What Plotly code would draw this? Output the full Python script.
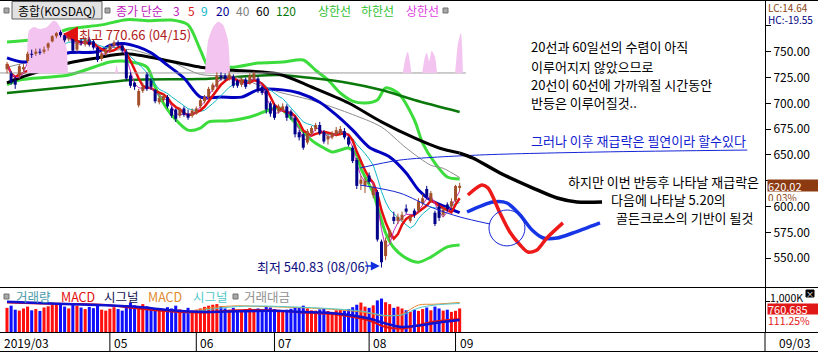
import plotly.graph_objects as go
import pandas as pd

# ---------------- DATA ----------------
month_labels = ["2019/03", "05", "06", "07", "08", "09"]
month_start = [0, 25, 46, 65, 88, 109]

opens = [733, 729, 722, 727, 733, 741, 748, 748, 750, 750,
         754, 760, 765, 769, 766, 762, 764, 752, 760, 757,
         762, 760, 754, 743, 748, 751, 756, 759, 756, 750,
         727, 720, 698, 712, 728, 722, 713, 701, 703, 706,
         695, 694, 688, 695, 690, 688, 690, 697, 702, 706,
         713, 716, 727, 727, 724, 726, 722, 718, 723, 720,
         724, 724, 716, 712, 700, 698, 692, 694, 697, 692,
         686, 672, 670, 662, 671, 675, 679, 672, 665, 667,
         670, 671, 673, 667, 657, 645, 622, 620, 630, 611,
         614, 566, 552, 570, 590, 586, 587, 598, 586, 596,
         596, 603, 617, 606, 594, 600, 592, 602, 600, 606,
         618]
highs = [740, 731, 726, 738, 738, 750, 752, 753, 753, 755,
         759, 766, 769, 770.66, 768, 766, 766, 762, 763, 764,
         764, 762, 755, 750, 754, 758, 761, 761, 758, 752,
         730, 721, 714, 720, 730, 724, 714, 707, 709, 708,
         697, 695, 696, 697, 694, 695, 697, 705, 708, 716,
         720, 730, 730, 729, 731, 728, 723, 725, 725, 729,
         731, 726, 717, 714, 702, 700, 699, 700, 699, 694,
         688, 674, 672, 675, 678, 681, 682, 674, 671, 673,
         677, 678, 676, 668, 659, 647, 630, 628, 633, 622,
         616, 568, 570, 579, 595, 593, 595, 602, 592, 598,
         608, 612, 620, 615, 596, 603, 599, 604, 608, 621,
         623]
lows = [729, 718, 714, 724, 731, 739, 744, 746, 747, 748,
        751, 759, 763, 764, 759, 760, 749, 750, 756, 755,
        755, 752, 740, 741, 746, 749, 754, 754, 749, 722,
        715, 713, 696, 710, 712, 713, 700, 699, 701, 695,
        686, 682, 686, 687, 684, 686, 689, 695, 700, 704,
        711, 714, 722, 722, 722, 715, 715, 716, 714, 718,
        722, 710, 708, 690, 687, 684, 690, 692, 683, 684,
        667, 664, 655, 660, 669, 673, 669, 661, 660, 665,
        668, 669, 665, 658, 642, 617, 616, 613, 622, 608,
        566, 540.83, 548, 566, 583, 583, 585, 593, 584, 589,
        594, 601, 607, 604, 581, 586, 590, 595, 598, 604,
        615]
closes = [738, 720, 718, 736, 735, 748, 747, 750, 749, 752,
          758, 765, 768, 766, 761, 764, 751, 760, 759, 762,
          757, 754, 742, 748, 752, 756, 759, 756, 751, 724,
          717, 716, 712, 716, 714, 716, 702, 705, 707, 697,
          688, 685, 694, 689, 686, 693, 695, 703, 706, 714,
          718, 727, 725, 724, 728, 717, 717, 723, 716, 727,
          729, 712, 710, 694, 690, 686, 697, 697, 686, 688,
          670, 667, 657, 673, 676, 679, 671, 663, 668, 671,
          674, 675, 667, 660, 644, 620, 626, 625, 624, 619,
          568, 546, 567, 577, 586, 590, 592, 595, 590, 592,
          605, 608, 610, 613, 583, 589, 597, 598, 605, 619.83,
          620.02]
volumes = [780000, 850000, 720000, 690000, 760000, 820000, 700000, 740000, 680000, 790000,
           830000, 870000, 910000, 880000, 820000, 760000, 900000, 850000, 790000, 740000,
           810000, 770000, 880000, 720000, 690000, 750000, 800000, 740000, 690000, 820000,
           950000, 860000, 790000, 900000, 830000, 760000, 720000, 690000, 740000, 800000,
           760000, 850000, 730000, 700000, 780000, 690000, 720000, 760000, 810000, 850000,
           880000, 900000, 830000, 760000, 720000, 780000, 700000, 680000, 740000, 770000,
           720000, 760000, 700000, 820000, 790000, 740000, 690000, 660000, 720000, 750000,
           800000, 780000, 850000, 760000, 700000, 690000, 730000, 760000, 680000, 650000,
           700000, 720000, 690000, 740000, 800000, 880000, 950000, 820000, 780000, 860000,
           1020000, 1080000, 960000, 900000, 780000, 820000, 760000, 700000, 650000, 720000,
           680000, 740000, 790000, 700000, 820000, 760000, 690000, 720000, 650000, 683760,
           760685]

# moving averages / bands (day index, value)
ma20_i = [0, 4, 15, 22, 25, 28, 32, 35, 39, 43, 47, 52, 57, 61, 67, 71, 76, 80, 84, 88, 93, 97, 100, 103, 107, 110]
ma20_v = [744, 740, 749, 750, 756, 758, 754.5, 749, 737, 724.5, 706, 706, 706, 713, 713, 710, 701, 688.7, 674,
          657.5, 648, 632.5, 616, 606, 599, 594]
ma40_i = [0, 15, 25, 30, 40, 47, 55, 61, 66, 74, 83, 91, 97, 103, 106, 110]
ma40_v = [735, 748, 751, 752, 740, 728, 726, 718, 711, 703, 690.6, 677, 656.7, 640, 637, 628]
ma60_i = [0, 3, 15, 22, 29, 47, 55, 66, 74, 83, 91, 99, 105, 110]
ma60_v = [719.7, 724.5, 739, 744, 748, 735, 732, 728.4, 715.8, 700.3, 682, 666.4, 656.7, 651.8]
ma120_i = [0, 15, 30, 47, 66, 74, 83, 91, 99, 110]
ma120_v = [710, 715.8, 722.6, 723.5, 727.4, 724.5, 719.7, 712.9, 703.2, 691.6]
bb_up_i = [0, 9, 15, 23, 29, 35, 40, 44, 47, 49, 55, 61, 67, 72, 75, 78, 81, 84, 87, 90, 92, 95, 99, 101, 104, 107, 110]
bb_up_v = [759.4, 763.3, 772, 776, 781, 780, 780.7, 776, 751.6, 736, 735, 739, 740, 742, 732, 722.6, 710, 702.2,
           700.3, 703.2, 715, 710, 683.8, 661.5, 642, 628.6, 626.7]
bb_lo_i = [0, 3, 15, 25, 28, 34, 36, 38, 40, 44, 47, 49, 54, 59, 66, 69, 71, 74, 77, 79, 81, 83, 85, 86, 89, 92,
           94, 97, 100, 103, 107, 110]
bb_lo_v = [718, 722.6, 727.4, 740, 741, 735, 715.8, 700.3, 688.7, 674, 676, 682, 683, 686.7, 695.4, 685.7, 677,
           664.4, 656.7, 652.8, 654.7, 656.7, 650, 637, 613, 574.3, 560, 550, 546, 551, 560.8, 562.7]

# pink "상한선" areas above the base level
pink_base = 729.4
pink_areas = [
    ([4.9, 5.3, 6.5, 8.0, 9.7, 11.3, 12.0, 13.4, 14.5, 14.8], [729.4, 770, 774, 772, 774, 780, 779, 770, 753, 729.4]),
    ([26.3, 26.6, 27.0], [729.4, 737, 729.4]),
    ([48.1, 48.9, 50.1, 51.3, 52.5, 53.7, 54.2], [729.4, 761, 774, 779, 776, 761, 729.4]),
    ([96.2, 96.9, 97.4, 98.3], [729.4, 745, 750, 729.4]),
    ([100.9, 101.5, 102.0, 102.6, 103.2, 104.0, 104.5], [729.4, 744, 749, 741, 751, 745, 729.4]),
    ([108.9, 109.6, 110.3, 110.8], [729.4, 758, 768, 729.4]),
]

# MACD panel lines (arbitrary units)
macd_i = [0, 8, 16, 24, 32, 40, 48, 56, 64, 72, 80, 88, 92, 96, 100, 104, 110]
macd_sig = [0.3, -1, -2.3, -3.3, -5, -8.3, -10, -9.3, -8.8, -10, -11.5, -16.5, -21.5, -25, -23.5, -21, -18]
macd_val = [-0.5, -1.5, -2, -3, -6.5, -9.5, -10.5, -8.2, -8.3, -10.5, -12.5, -18.5, -25, -26.5, -23, -19.5, -17]
macd2_i = [44, 50, 56, 62, 70, 78, 86, 92, 96, 100, 104, 110]
macd2_val = [-10, -5.5, -3.8, -4.5, -5.5, -7, -10, -14, -12, -3, -2.2, -0.5]
macd2_sig = [-11, -7, -4.5, -4, -5, -6.5, -9, -13.5, -13, -6, -3, -1.5]

# hand-drawn projection (day index, value)
black_ext_i = [110, 113.2, 119.8, 127.8, 133.7, 138.5, 144.6]
black_ext_v = [651.8, 647, 632.5, 617.9, 608.2, 604.4, 604.4]
red_proj_i = [112.0, 115.4, 116.9, 119.8, 122.2, 124.7, 126.6, 128.8, 131.2, 135.1]
red_proj_v = [611.1, 620.8, 617.9, 593.7, 575.3, 562.7, 555.9, 557.9, 569.5, 584.1]
blue_proj_i = [111.8, 118.1, 121.5, 124.7, 127.6, 130.3, 133.7, 137.5, 144.1]
blue_proj_v = [594.7, 604.4, 603.4, 591.8, 577.2, 569.5, 569.5, 574.3, 584.1]
lineA_i = [85.8, 95.5, 114.9, 144.1, 179.9]
lineA_v = [637.3, 645.0, 649.9, 652.8, 654.7]
lineB_i = [85.8, 95.5, 103.5, 110.1, 117.4]
lineB_v = [620.8, 613.0, 598.6, 589.8, 583.0]
circle_center = (121.5, 579.2)
circle_r_idx, circle_r_val = 4.37, 17.4

high_idx, high_val = 13, 770.66
low_idx, low_val = 91, 540.83

price_ticks = [550, 575, 600, 625, 650, 675, 700, 725, 750, 775]

# ---------------- geometry helpers (pixels -> paper) ----------------
W, H = 818, 352
AX_X = 765
BOT = 332
MAIN_BOT = 287
VOL_TOP = 288
X_OFF, X_STEP = 7.0, 4.115
PX_PER_PT = 1.032
Y750 = 51.7


def PX(px):
    return px / AX_X


def PY(py):
    return (BOT - py) / BOT


FONT = "Noto Sans CJK KR, Noto Sans, sans-serif"
N = len(closes)
idx = list(range(N))
s = pd.Series(closes)
ma3 = s.rolling(3, min_periods=1).mean()
ma5 = s.rolling(5, min_periods=1).mean()
ma9 = s.rolling(9, min_periods=1).mean()

UP = "#a3502a"
DN = "#000088"
GREEN = "#3cdc3c"

fig = go.Figure()


def line(x, y, color, width, shape="spline", yaxis="y", dash="solid"):
    fig.add_trace(go.Scatter(x=x, y=y, mode="lines", yaxis=yaxis, hoverinfo="skip",
                             line=dict(color=color, width=width, shape=shape, dash=dash, smoothing=0.8)))


# bands and averages
line(bb_up_i, bb_up_v, GREEN, 3)
line(bb_lo_i, bb_lo_v, GREEN, 3)
line(ma120_i, ma120_v, "#0a780a", 2.5)
line(ma40_i, ma40_v, "#8c8c8c", 1)
line(ma60_i, ma60_v, "#000000", 3)
line(ma20_i, ma20_v, "#0000c0", 3)
line(idx, ma9, "#10b8c8", 1, shape="linear")
line(idx, ma5, "#e41010", 2.5, shape="linear")
line(idx, ma3, "#c030c0", 1, shape="linear")

# base level
line([-2, 111.5], [pink_base, pink_base], "#9a9a9a", 1, shape="linear")

# pink areas
for px_, pv_ in pink_areas:
    fig.add_trace(go.Scatter(x=px_, y=pv_, mode="lines", fill="toself", fillcolor="#f3c4ef",
                             line=dict(width=0, color="#f3c4ef", shape="spline", smoothing=0.6),
                             hoverinfo="skip"))

# candles
for up in (True, False):
    wx, wy, bx, by = [], [], [], []
    for i in idx:
        if (closes[i] >= opens[i]) != up:
            continue
        wx += [i, i, None]
        wy += [lows[i], highs[i], None]
        bx += [i, i, None]
        by += [opens[i], closes[i], None]
    col = UP if up else DN
    fig.add_trace(go.Scatter(x=wx, y=wy, mode="lines", line=dict(color=col, width=1), hoverinfo="skip"))
    fig.add_trace(go.Scatter(x=bx, y=by, mode="lines", line=dict(color=col, width=3), hoverinfo="skip"))

# hand drawings
line(lineA_i, lineA_v, "#1525d8", 1)
line(lineB_i, lineB_v, "#1525d8", 1)
line(black_ext_i, black_ext_v, "#000000", 3.5)
line(blue_proj_i, blue_proj_v, "#1535e6", 3.5)
line(red_proj_i, red_proj_v, "#ee1a1a", 3.5)

# volume
vcol = ["#ff1010" if closes[i] >= opens[i] else "#1010ff" for i in idx]
fig.add_trace(go.Bar(x=idx, y=volumes, marker=dict(color=vcol, line=dict(width=0)), width=0.74,
                     yaxis="y2", hoverinfo="skip"))
line(macd2_i, macd2_val, "#e88a30", 1, yaxis="y3")
line(macd2_i, macd2_sig, "#50c8c8", 1, yaxis="y3")
line(macd_i, macd_val, "#e01010", 2, yaxis="y3")
line(macd_i, macd_sig, "#1010d0", 2.5, yaxis="y3")

x_range = [(0 - X_OFF) / X_STEP, (AX_X - X_OFF) / X_STEP]
y_range = [750 - (MAIN_BOT - Y750) / PX_PER_PT, 750 + Y750 / PX_PER_PT]

# labels hidden under the LC/HC texts and the price box are left blank
hidden = {625, 775}
price_text = ["" if v in hidden else f"{v:.2f}" for v in price_ticks]

fig.update_layout(
    width=W, height=H, margin=dict(l=0, r=W - AX_X, t=0, b=H - BOT),
    paper_bgcolor="white", plot_bgcolor="white", showlegend=False,
    font=dict(family=FONT, size=12, color="black"),
    xaxis=dict(domain=[0, 1], range=x_range, showticklabels=False, ticks="", showgrid=False,
               zeroline=False, showline=False, anchor="y2", rangeslider=dict(visible=False)),
    yaxis=dict(domain=[PY(MAIN_BOT), 1], range=y_range, side="right", tickvals=price_ticks,
               ticktext=price_text, ticks="outside", ticklen=5, tickcolor="black", showline=True,
               linecolor="black", linewidth=1, showgrid=False, zeroline=False,
               tickfont=dict(family=FONT, size=12, color="black")),
    yaxis2=dict(domain=[0, PY(VOL_TOP)], range=[0, 1420000], side="right", tickvals=[1000000],
                ticktext=[""], ticks="outside", ticklen=4, tickcolor="black", showline=True,
                linecolor="black", linewidth=1, showgrid=False, zeroline=False,
                tickfont=dict(family=FONT, size=12, color="black")),
    yaxis3=dict(overlaying="y2", range=[-30, 14], visible=False),
)

shapes = []
# frame lines
for yy in (0.5, MAIN_BOT + 0.5, BOT + 0.5, H - 0.5):
    shapes.append(dict(type="line", xref="paper", yref="paper", x0=0, x1=W / AX_X, y0=PY(yy), y1=PY(yy),
                       line=dict(color="black", width=1)))
shapes.append(dict(type="line", xref="paper", yref="paper", x0=1, x1=1, y0=PY(BOT), y1=PY(H),
                   line=dict(color="black", width=1)))
# month separators in the date row
for ms in month_start[1:]:
    shapes.append(dict(type="line", xref="x", yref="paper", x0=ms, x1=ms, y0=PY(BOT), y1=PY(H),
                       line=dict(color="black", width=1)))
# circle
cx, cy = circle_center
shapes.append(dict(type="circle", xref="x", yref="y", x0=cx - circle_r_idx, x1=cx + circle_r_idx,
                   y0=cy - circle_r_val, y1=cy + circle_r_val, line=dict(color="#1525d8", width=1)))
# header button and little squares
shapes.append(dict(type="rect", xref="paper", yref="paper", x0=PX(12), x1=PX(102), y0=PY(19), y1=PY(1.5),
                   fillcolor="#e2e2e2", line=dict(color="#606060", width=1)))
for x0 in (4, 105, 443):
    shapes.append(dict(type="rect", xref="paper", yref="paper", x0=PX(x0), x1=PX(x0 + 5), y0=PY(13), y1=PY(8),
                       fillcolor="#a8a8a8", line=dict(color="#707070", width=1)))
for x0 in (4, 233):
    shapes.append(dict(type="rect", xref="paper", yref="paper", x0=PX(x0), x1=PX(x0 + 5), y0=PY(299), y1=PY(294),
                       fillcolor="#a8a8a8", line=dict(color="#707070", width=1)))
shapes.append(dict(type="rect", xref="paper", yref="paper", x0=PX(806), x1=PX(814), y0=PY(297), y1=PY(290),
                   fillcolor="black", line=dict(color="black", width=1)))
fig.update_layout(shapes=shapes)

ann = []


def text(px, py, t, color="black", size=12, anchor="left", bg=None, fcolor=None, w=None, h=None):
    d = dict(xref="paper", yref="paper", x=PX(px), y=PY(py), text=t, showarrow=False,
             xanchor=anchor, yanchor="middle", font=dict(family=FONT, size=size, color=fcolor or color),
             borderpad=0, align="left")
    if bg:
        d["bgcolor"] = bg
    if w:
        d["width"] = w
    if h:
        d["height"] = h
    ann.append(d)


# header
text(57, 10, "종합(KOSDAQ)", anchor="center", size=12)
for px_, t, c in [(115, "종가 단순", "#c020c0"), (172, "3", "#c020c0"), (187, "5", "#d82020"),
                  (200, "9", "#10b8c8"), (215, "20", "#000090"), (235, "40", "#808080"),
                  (255, "60", "#000000"), (275, "120", "#087808"), (317, "상한선", "#30c030"),
                  (360, "하한선", "#30c030"), (405, "상한선", "#e040e0")]:
    text(px_, 10, t, c, size=12)
# volume panel header
for px_, t, c in [(15, "거래량", "#4a9aaa"), (60, "MACD", "#e01010"), (103, "시그널", "#101050"),
                  (147, "MACD", "#e08a30"), (192, "시그널", "#50c8c8"), (243, "거래대금", "#909090")]:
    text(px_, 296, t, c, size=12.5)
# dates
text(3, 342, month_labels[0])
for ms, lab in zip(month_start[1:], month_labels[1:]):
    ann.append(dict(xref="x", yref="paper", x=ms, y=PY(342), text=lab, showarrow=False, xanchor="left",
                    yanchor="middle", xshift=2, font=dict(family=FONT, size=12, color="black")))
text(778, 342, "09/03")
# right side labels
text(767, 7, "LC:14.64", "#8b4513", size=10, bg="white", w=50, h=10)
text(767, 19, "HC:-19.55", "#000080", size=10, bg="white", w=50, h=10)
text(767, 185.5, "620.02", size=11, bg="#8b3a12", fcolor="white", w=51, h=11)
text(767, 196.5, "0.03%", "#8b4513", size=10, bg="white", w=51, h=8)
text(769, 297.5, "1,000K", size=10.5)
text(767, 308.5, "760,685", size=11, bg="#e01818", fcolor="white", w=51, h=10)
text(767, 320, "111.25%", "#e01818", size=10.5, bg="white", w=51, h=9)
text(810, 293.5, "×", fcolor="white", size=8, anchor="center")
# commentary
for py_, t in [(47, "20선과 60일선의 수렴이 아직"), (66, "이루어지지 않았으므로"),
               (85, "20선이 60선에 가까워질 시간동안"), (103, "반등은 이루어질것..")]:
    text(530, py_, t, size=13)
text(530, 141, "그러나 이후 재급락은 필연이라 할수있다", "#1020d0", size=13)
text(567, 181, "하지만 이번 반등후 나타날 재급락은", size=13)
text(610, 200, "다음에 나타날 5.20의", size=13)
text(615, 218, "골든크로스의 기반이 될것", size=13)
text(78, 34, "최고 770.66 (04/15)", "#b02020", size=13)
text(256, 266, "최저 540.83 (08/06)", "#101080", size=13)
# arrows
ann.append(dict(xref="x", yref="y", x=high_idx + 0.6, y=high_val - 3.5, ax=14, ay=0, text="",
                showarrow=True, arrowhead=2, arrowsize=1, arrowwidth=3, arrowcolor="#e01010"))
ann.append(dict(xref="x", yref="y", x=low_idx - 0.4, y=low_val + 1.5, ax=-16, ay=0, text="",
                showarrow=True, arrowhead=2, arrowsize=1.2, arrowwidth=1.5, arrowcolor="#1030e0"))
fig.update_layout(annotations=ann)

fig.write_html("out.html")
